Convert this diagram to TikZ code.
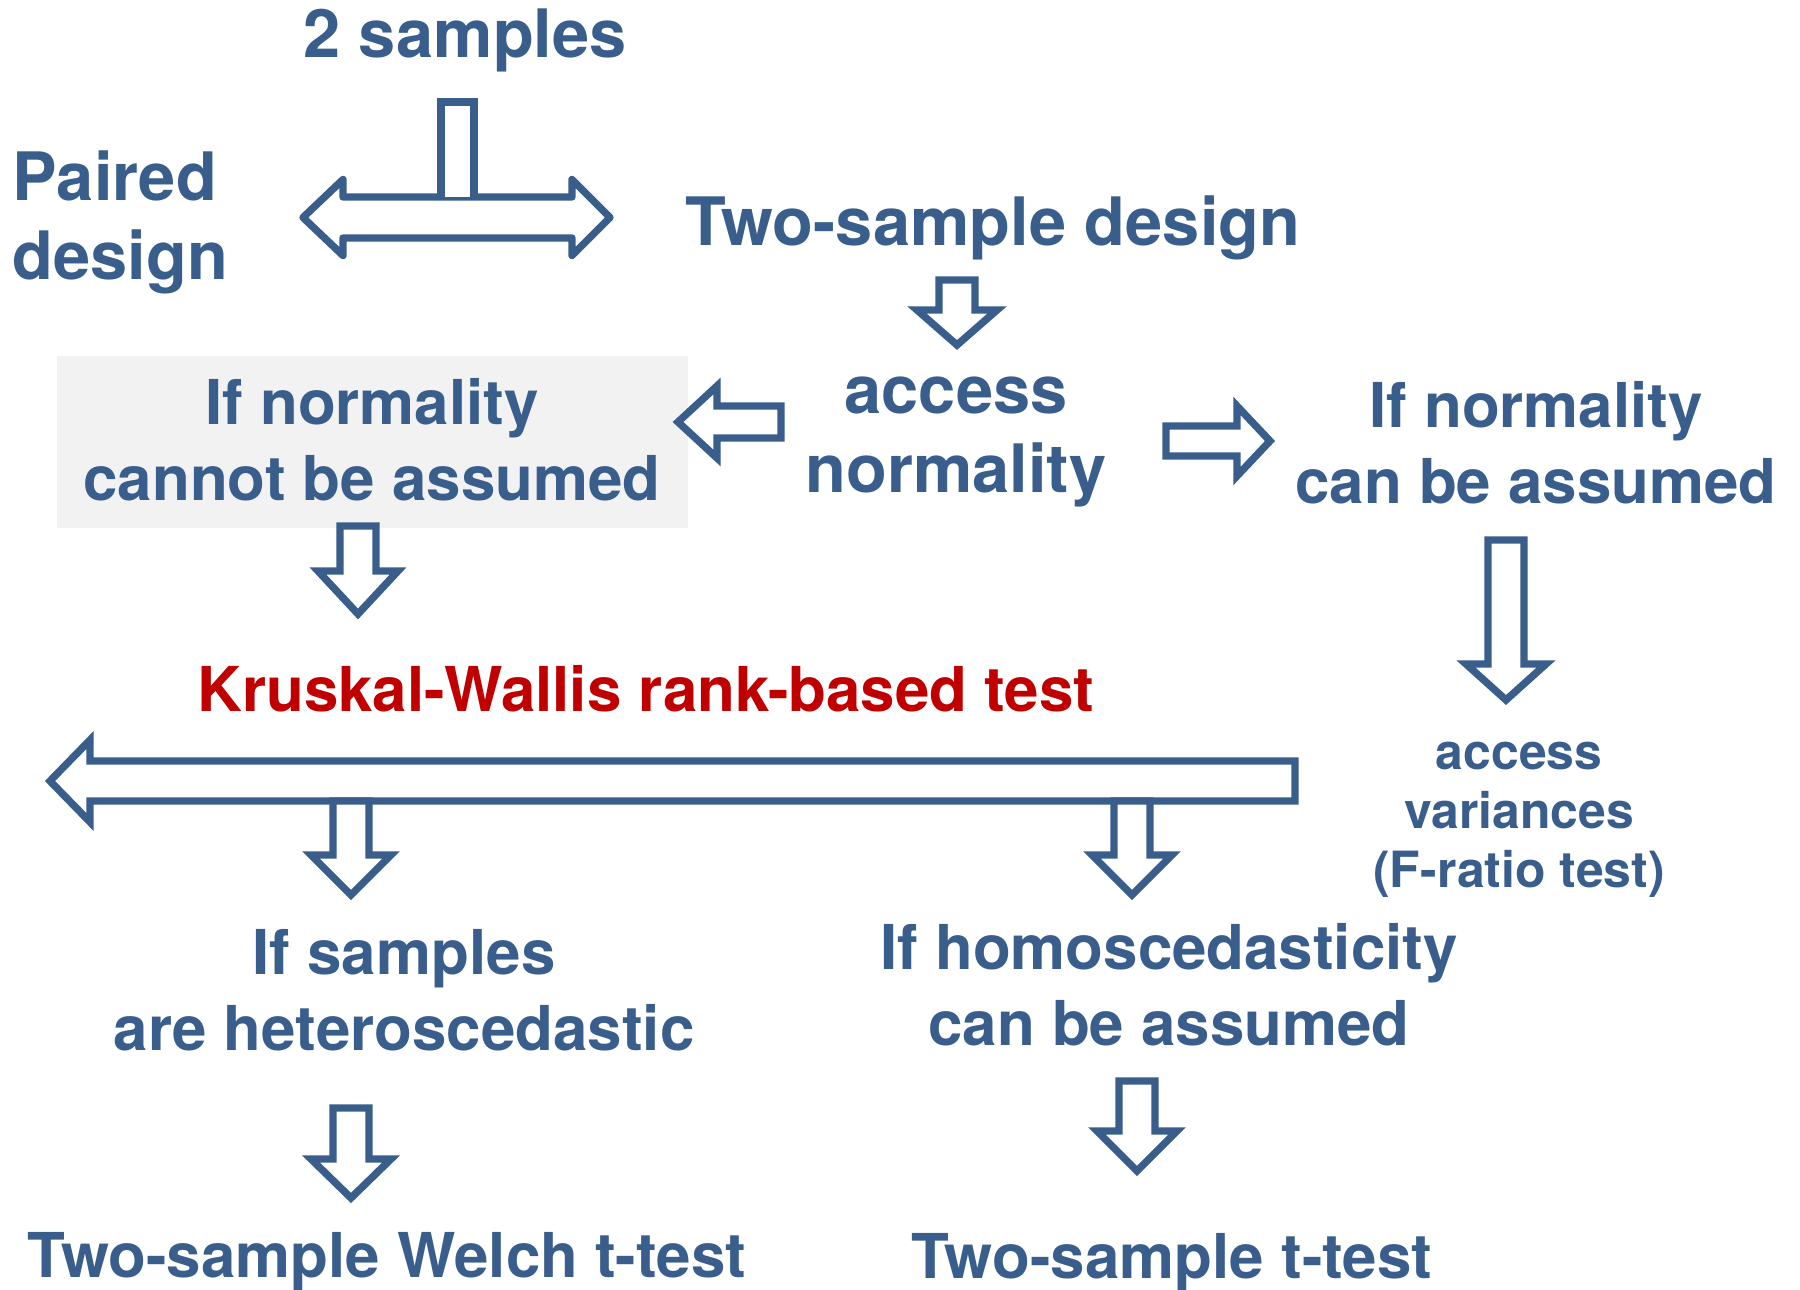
\documentclass[tikz,border=0pt]{standalone}
\usepackage{fontspec}
\setmainfont{TeX Gyre Heros}
\usepackage{tikz}
\usetikzlibrary{arrows,backgrounds,positioning,calc}
\definecolor{flowblue}{RGB}{57, 94, 140}
\definecolor{flowred}{RGB}{192, 0, 0}
\definecolor{boxgray}{RGB}{242, 242, 242}
\newdimen\fsbig
\newdimen\fsmid
\newdimen\fssml

\begin{document}
\begin{tikzpicture}[align=center,inner sep=0pt,
  blk/.style={draw=flowblue,line width=2.1pt,fill=white},
  big/.style={text=flowblue,font=\bfseries\fontsize{\fsbig}{22.5pt}\selectfont},
  mid/.style={text=flowblue,font=\bfseries\fontsize{\fsmid}{21.5pt}\selectfont},
  sml/.style={text=flowblue,font=\bfseries\fontsize{\fssml}{16.8pt}\selectfont}]
   \fsbig=19pt
   \fsmid=17.6pt
   \fssml=14.2pt
   \useasboundingbox (0,0) rectangle (18,-12.9);
   \fill[boxgray] (0.57,-3.56) rectangle (6.88,-5.28);
   \node (TS) at (4.65,-0.40)[big] {2 samples};
   \node (PD) at (0.12,-2.22)[big,anchor=west,align=left] {Paired\\ design};
   \node (TSD) at (9.93,-2.28)[big] {Two-sample design};
   \node (NN) at (3.72,-4.40)[mid] {If normality\\ cannot be assumed};
   \node (AN) at (9.56,-4.42)[big] {access\\ normality};
   \node (CN) at (15.36,-4.43)[mid] {If normality\\ can be assumed};
   \node (KW) at (6.46,-6.89)[mid,text=flowred] {Kruskal-Wallis rank-based test};
   \node (AV) at (15.19,-8.20)[sml] {access\\ variances\\ (F-ratio test)};
   \node (HET) at (4.04,-9.90)[mid] {If samples\\ are heteroscedastic};
   \node (HOM) at (11.69,-9.85)[mid] {If homoscedasticity\\ can be assumed};
   \node (WT) at (3.87,-12.62)[mid] {Two-sample Welch t-test};
   \node (TT) at (11.72,-12.63)[mid] {Two-sample t-test};
   \draw[blk,line join=round] (3.03,-2.175) -- (3.43,-1.795) -- (3.43,-1.97) -- (5.72,-1.97) -- (5.72,-1.795) -- (6.10,-2.175) -- (5.72,-2.555) -- (5.72,-2.38) -- (3.43,-2.38) -- (3.43,-2.555) -- cycle;
   \draw[blk] (4.41,-1.97) -- (4.41,-1.02) -- (4.74,-1.02) -- (4.74,-1.97);
   \draw[blk] (6.78,-4.22) -- (7.17,-3.86) -- (7.17,-4.06) -- (7.81,-4.06) -- (7.81,-4.38) -- (7.17,-4.38) -- (7.17,-4.58) -- cycle;
   \draw[blk] (12.70,-4.41) -- (12.37,-4.06) -- (12.37,-4.26) -- (11.66,-4.26) -- (11.66,-4.56) -- (12.37,-4.56) -- (12.37,-4.76) -- cycle;
   \draw[blk] (0.50,-7.81) -- (0.90,-7.40) -- (0.90,-7.61) -- (12.95,-7.61) -- (12.95,-8.01) -- (0.90,-8.01) -- (0.90,-8.22) -- cycle;
   \foreach \c/\t/\s/\p in {9.57/2.80/3.10/3.45, 3.58/5.26/5.71/6.14, 15.06/5.40/6.64/7.00, 3.51/8.01/8.55/8.95, 11.32/8.01/8.55/8.95, 3.51/11.08/11.59/11.98, 11.37/10.81/11.31/11.71} {
    \draw[blk] (\c,-\p) -- (\c-0.40,-\s) -- (\c-0.18,-\s) -- (\c-0.18,-\t) -- (\c+0.18,-\t) -- (\c+0.18,-\s) -- (\c+0.40,-\s) -- cycle;
   }
\end{tikzpicture}
\end{document}
